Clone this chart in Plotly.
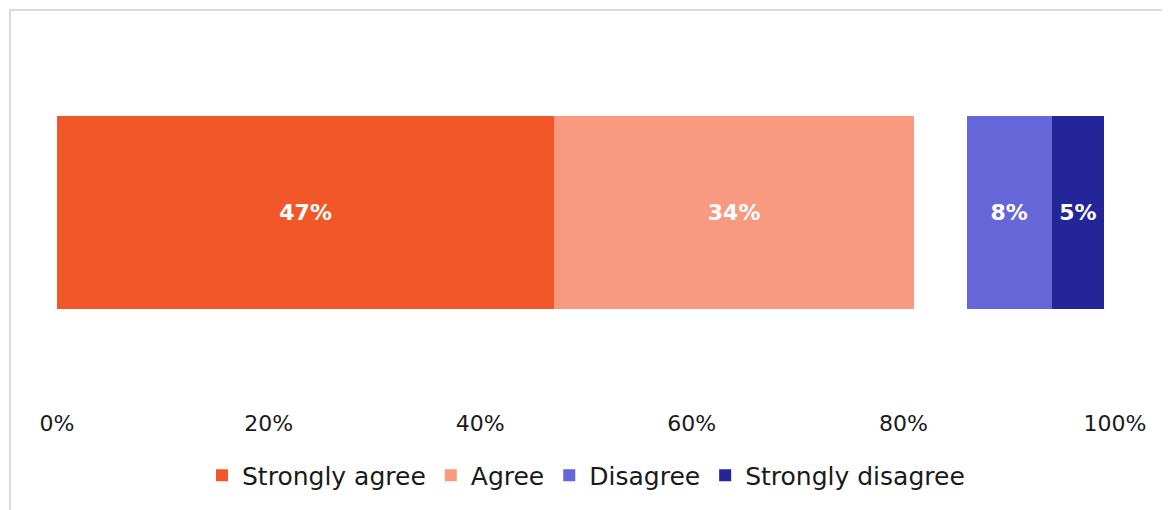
import plotly.graph_objects as go

categories = ["Statement"]
series_names = ["Strongly agree", "Agree", "Neither", "Disagree", "Strongly disagree"]
values = {
    "Strongly agree": [47],
    "Agree": [34],
    "Neither": [5],
    "Disagree": [8],
    "Strongly disagree": [5],
}
colors = {
    "Strongly agree": "#F2572A",
    "Agree": "#F79A80",
    "Neither": "rgba(0,0,0,0)",
    "Disagree": "#6666D9",
    "Strongly disagree": "#25259A",
}
tick_vals = [0, 20, 40, 60, 80, 100]
tick_text = ["0%", "20%", "40%", "60%", "80%", "100%"]

FONT = "DejaVu Sans"
OFF = 8  # default page body margin
W, H = 1170 - OFF, 510 - OFF
ML, MR, MT, MB = 57 - OFF, 55, 20 - OFF, 105
PW = W - ML - MR
PH = H - MT - MB

fig = go.Figure()
for name in series_names:
    hidden = name == "Neither"
    fig.add_trace(go.Bar(
        y=[0], x=values[name], name=name, orientation="h",
        marker=dict(color=colors[name], line=dict(width=0)),
        width=194 / PH,
        text=None if hidden else [f"{v}%" for v in values[name]],
        textposition="inside", insidetextanchor="middle",
        textfont=dict(color="white", size=22, family=FONT, weight="bold"),
        showlegend=not hidden, hoverinfo="skip" if hidden else None,
    ))

fig.update_layout(
    width=W, height=H, barmode="stack",
    margin=dict(l=ML, r=MR, t=MT, b=MB),
    paper_bgcolor="white", plot_bgcolor="white",
    font=dict(family=FONT, color="#1a1a1a", size=22),
    xaxis=dict(range=[0, 100], tickvals=tick_vals, ticktext=tick_text,
               showgrid=False, zeroline=False, showline=False,
               tickfont=dict(size=22, color="#1a1a1a"), ticklen=0, ticks="",
               ticklabelstandoff=6),
    yaxis=dict(range=[-0.496, 0.504], visible=False),
    legend=dict(orientation="h", x=0.5, xanchor="center",
                y=-(479 - 20 - PH) / PH, yanchor="middle",
                font=dict(size=25, color="#1a1a1a"), traceorder="normal",
                itemwidth=30),
    uniformtext=dict(minsize=10, mode="show"),
)
fig.add_shape(type="rect", xref="paper", yref="paper",
              x0=(10 - 57) / PW, x1=1.3, y0=-0.6, y1=1 + 10 / PH,
              line=dict(color="#d9d9d9", width=2), fillcolor="rgba(0,0,0,0)", layer="below")

fig.write_html("out.html")
